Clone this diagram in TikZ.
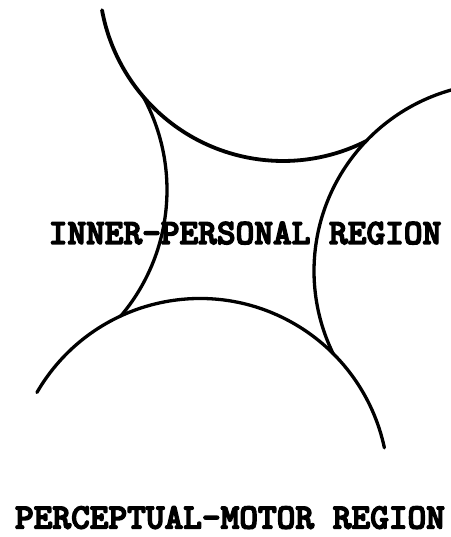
\documentclass[tikz,border=0pt]{standalone}
\usepackage{fontspec}
\usepackage{graphicx}
\newfontfamily\typew[Extension=.otf,FakeBold=4]{lmmonolt10-bold}
\begin{document}
\begin{tikzpicture}[x=1pt,y=1pt,
  arcline/.style={draw=black, line width=3.3pt, line cap=round},
  heavyarc/.style={arcline, line width=3.8pt},
  regiontext/.style={font=\typew\fontsize{35.6}{38}\selectfont, inner sep=0pt, anchor=base}]
\useasboundingbox (0,0) rectangle (450,537);
% circle centres
\coordinate (ctop) at (283,560);
\coordinate (cright) at (502,266);
\coordinate (cbottom) at (200,50);
\coordinate (cleft) at (-28,347);
% top circle arc
\draw[heavyarc] (ctop) ++(190.4:184) arc[start angle=190.4, end angle=296.8, radius=184];
% right circle arc
\draw[arcline] (cright) ++(105.5:188) arc[start angle=105.5, end angle=206.0, radius=188];
% bottom circle arc
\draw[arcline] (cbottom) ++(149.9:188.5) arc[start angle=149.9, end angle=12.0, radius=188.5];
% left circle arc
\draw[arcline] (cleft) ++(28.6:195) arc[start angle=28.6, end angle=-40.3, radius=195];
% labels
\node[regiontext] (inner) at (245,293) {\raisebox{0pt}[\height][0pt]{INNER-PERSONAL REGION}};
\node[regiontext] (outer) at (230,8.5) {\raisebox{0pt}[\height][0pt]{PERCEPTUAL-MOTOR REGION}};
\end{tikzpicture}
\end{document}
